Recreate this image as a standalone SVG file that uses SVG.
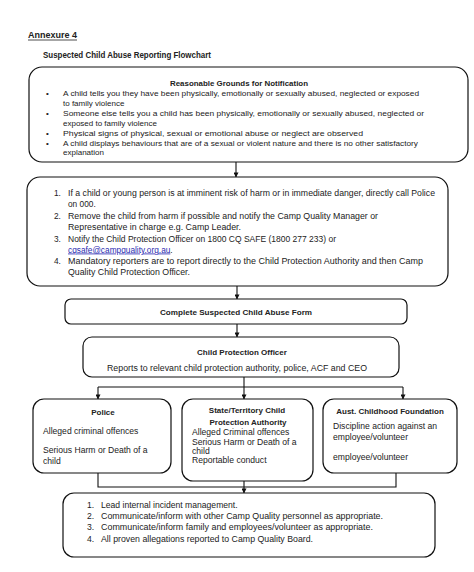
<svg xmlns="http://www.w3.org/2000/svg" width="474" height="572" viewBox="0 0 474 572">
<defs>
<style>
text{font-family:"Liberation Sans",Arial,sans-serif;fill:#222;font-size:8.4px}
.b{font-weight:bold}
.c{text-anchor:middle}
.s1{font-size:8px}
.s2{font-size:8.3px}
.s3{font-size:8.6px}
.box{fill:#fff;stroke:#111;stroke-width:1.2}
.ln{fill:none;stroke:#111;stroke-width:1.1}
.lnk{fill:#2b2bb0;text-decoration:underline}
</style>
<marker id="ar" viewBox="0 0 6 6" refX="5.5" refY="3" markerWidth="5" markerHeight="5" orient="auto" markerUnits="userSpaceOnUse"><path d="M0,0 L6,3 L0,6 z" fill="#111"/></marker>
</defs>
<rect width="474" height="572" fill="#fff"/>
<g id="header">
<text x="28" y="38" class="b" font-size="9" textLength="49" lengthAdjust="spacingAndGlyphs">Annexure 4</text>
<line x1="28" y1="40" x2="77" y2="40" stroke="#222" stroke-width="0.8"/>
<text x="43" y="58" class="b" textLength="168" lengthAdjust="spacingAndGlyphs">Suspected Child Abuse Reporting Flowchart</text>
</g>
<g id="connectors">
<line class="ln" x1="236" y1="162" x2="236" y2="177" marker-end="url(#ar)"/>
<line class="ln" x1="237" y1="286" x2="237" y2="299" marker-end="url(#ar)"/>
<line class="ln" x1="237" y1="324" x2="237" y2="337" marker-end="url(#ar)"/>
<polyline class="ln" points="244,377 244,387"/>
<polyline class="ln" points="98,387 403,387"/>
<line class="ln" x1="98" y1="387" x2="98" y2="399" marker-end="url(#ar)"/>
<line class="ln" x1="244" y1="387" x2="244" y2="399" marker-end="url(#ar)"/>
<line class="ln" x1="403" y1="387" x2="403" y2="399" marker-end="url(#ar)"/>
<polyline class="ln" points="98,473 98,487 396,487 396,473"/>
<line class="ln" x1="244" y1="481" x2="244" y2="493" marker-end="url(#ar)"/>
</g>
<g id="grounds">
<rect class="box" x="29" y="67" width="439" height="95" rx="13"/>
<text x="239" y="85.5" class="b c s1" textLength="138" lengthAdjust="spacingAndGlyphs">Reasonable Grounds for Notification</text>
<g class="s1">
<text x="46" y="96" class="s1">•</text><text x="63" y="96" class="s1" textLength="356" lengthAdjust="spacingAndGlyphs">A child tells you they have been physically, emotionally or sexually abused, neglected or exposed</text>
<text x="63" y="105.5" class="s1">to family violence</text>
<text x="46" y="116" class="s1">•</text><text x="63" y="116" class="s1" textLength="361" lengthAdjust="spacingAndGlyphs">Someone else tells you a child has been physically, emotionally or sexually abused, neglected or</text>
<text x="63" y="125.5" class="s1">exposed to family violence</text>
<text x="46" y="135.5" class="s1">•</text><text x="63" y="135.5" class="s1" textLength="300" lengthAdjust="spacingAndGlyphs">Physical signs of physical, sexual or emotional abuse or neglect are observed</text>
<text x="46" y="145.5" class="s1">•</text><text x="63" y="145.5" class="s1" textLength="355" lengthAdjust="spacingAndGlyphs">A child displays behaviours that are of a sexual or violent nature and there is no other satisfactory</text>
<text x="63" y="155" class="s1">explanation</text>
</g>
</g>
<g id="steps">
<rect class="box" x="27" y="177" width="421" height="109" rx="13"/>
<text x="54" y="196" class="s2">1.</text><text x="68" y="196" class="s2" textLength="367" lengthAdjust="spacingAndGlyphs">If a child or young person is at imminent risk of harm or in immediate danger, directly call Police</text>
<text x="68" y="207" class="s2">on 000.</text>
<text x="54" y="218.5" class="s2">2.</text><text x="68" y="218.5" class="s2" textLength="310" lengthAdjust="spacingAndGlyphs">Remove the child from harm if possible and notify the Camp Quality Manager or</text>
<text x="68" y="230" class="s2" textLength="173" lengthAdjust="spacingAndGlyphs">Representative in charge e.g. Camp Leader.</text>
<text x="54" y="241.5" class="s2">3.</text><text x="68" y="241.5" class="s2" textLength="268" lengthAdjust="spacingAndGlyphs">Notify the Child Protection Officer on 1800 CQ SAFE (1800 277 233) or</text>
<text x="68" y="252.5" class="s2"><tspan class="lnk">cqsafe@campquality.org.au</tspan>.</text>
<text x="54" y="264" class="s2">4.</text><text x="68" y="264" class="s2" textLength="355" lengthAdjust="spacingAndGlyphs">Mandatory reporters are to report directly to the Child Protection Authority and then Camp</text>
<text x="68" y="275" class="s2" textLength="122" lengthAdjust="spacingAndGlyphs">Quality Child Protection Officer.</text>
</g>
<g id="form">
<rect class="box" x="65" y="299" width="342" height="25" rx="6"/>
<text x="236" y="315" class="b c s1" textLength="152" lengthAdjust="spacingAndGlyphs">Complete Suspected Child Abuse Form</text>
</g>
<g id="cpo">
<rect class="box" x="83" y="337" width="316" height="40" rx="9"/>
<text x="242" y="355" class="b c s1">Child Protection Officer</text>
<text x="237" y="370.5" class="c s2" textLength="260" lengthAdjust="spacingAndGlyphs">Reports to relevant child protection authority, police, ACF and CEO</text>
</g>
<g id="police">
<rect class="box" x="33" y="399" width="138" height="74" rx="11"/>
<text x="103" y="415" class="b c s1">Police</text>
<text x="43" y="434" class="s3">Alleged criminal offences</text>
<text x="43" y="453" class="s3">Serious Harm or Death of a</text>
<text x="43" y="464" class="s3">child</text>
</g>
<g id="state">
<rect class="box" x="182" y="399" width="131" height="82" rx="11"/>
<text x="247" y="413" class="b c s1">State/Territory Child</text>
<text x="248" y="425" class="b c s1">Protection Authority</text>
<text x="192" y="435" class="s3">Alleged Criminal offences</text>
<text x="192" y="445" class="s3">Serious Harm or Death of a</text>
<text x="192" y="454" class="s3">child</text>
<text x="192" y="463" class="s3">Reportable conduct</text>
</g>
<g id="acf">
<rect class="box" x="323" y="399" width="134" height="74" rx="11"/>
<text x="390" y="414" class="b c s1">Aust. Childhood Foundation</text>
<text x="333" y="429" class="s3">Discipline action against an</text>
<text x="333" y="440" class="s3">employee/volunteer</text>
<text x="333" y="460" class="s3">employee/volunteer</text>
</g>
<g id="internal">
<rect class="box" x="63" y="493" width="372" height="64" rx="11"/>
<text x="87" y="507.5" class="s3">1.</text><text x="101" y="507.5" class="s3">Lead internal incident management.</text>
<text x="87" y="519" class="s3">2.</text><text x="101" y="519" class="s3" textLength="282" lengthAdjust="spacingAndGlyphs">Communicate/inform with other Camp Quality personnel as appropriate.</text>
<text x="87" y="530" class="s3">3.</text><text x="101" y="530" class="s3" textLength="272" lengthAdjust="spacingAndGlyphs">Communicate/inform family and employees/volunteer as appropriate.</text>
<text x="87" y="541.5" class="s3">4.</text><text x="101" y="541.5" class="s3" textLength="212" lengthAdjust="spacingAndGlyphs">All proven allegations reported to Camp Quality Board.</text>
</g>
</svg>
